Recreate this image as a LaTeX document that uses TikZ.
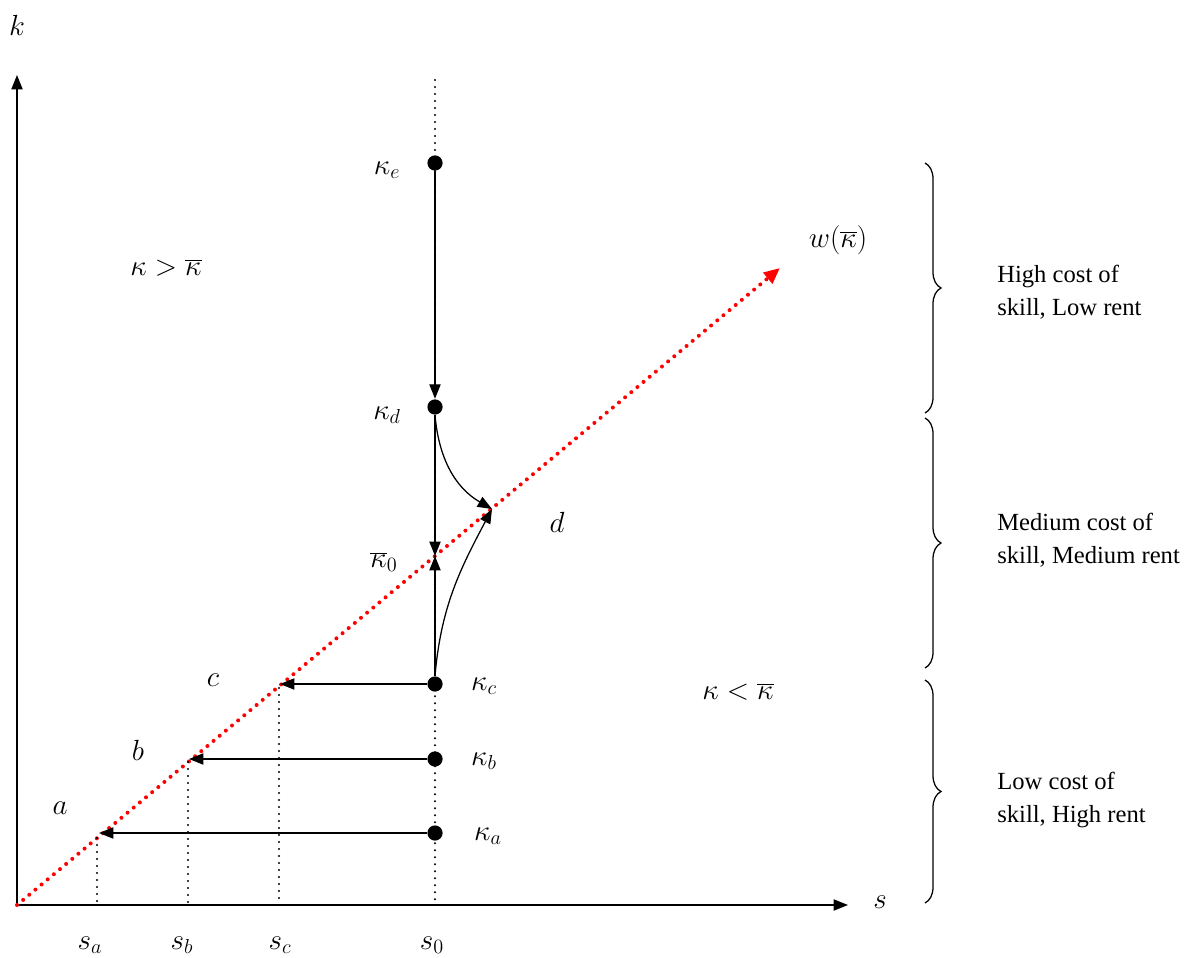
\documentclass[tikz,border=0pt]{standalone}
\usepackage{fontspec}
\setmainfont{Liberation Serif}
\usetikzlibrary{positioning,arrows.meta,decorations.pathreplacing}

\begin{document}
\begin{tikzpicture}[x=0.025cm,y=-0.025cm,line width=0.9pt]
\tikzstyle{dot}=[circle,fill=black,inner sep=0pt,minimum size=3.8mm]
\tikzstyle{lbl}=[font=\fontsize{22}{26}\selectfont]
\tikzstyle{note}=[font=\fontsize{17.5}{23.4}\selectfont,align=left,anchor=west]
\tikzstyle{tip}=[-{Triangle[length=3.6mm,width=2.8mm]}]
\tikzstyle{drop}=[line width=1.6pt,line cap=round,dash pattern=on 0pt off 1.75mm]
\tikzstyle{brc}=[decorate,decoration={brace,amplitude=4mm}]
\useasboundingbox (0,0) rectangle (1185,958);

% axes
\coordinate (O) at (17,905);
\coordinate (ytop) at (17,75);
\coordinate (xend) at (848,905);
\draw[tip] (O) -- (ytop);
\draw[tip] (O) -- (xend);
\node[lbl] (klbl) at (17,25) {$k$};
\node[lbl] (slbl) at (880,902) {$s$};

% w line
\coordinate (wend) at (780,268);
\draw[red,line width=1mm,line cap=round,dash pattern=on 0pt off 2mm,-{Triangle[length=4mm,width=3.4mm]}] (O) -- (wend);
\node[lbl] (wlbl) at (838,240) {$w(\overline{\kappa})$};

% points on the line
\coordinate (pa) at (99,833);
\coordinate (pb) at (189,759);
\coordinate (pc) at (280,684);
\coordinate (pd) at (492,509);
\coordinate (k0) at (435,556);

% s0 line and drops
\draw[drop] (435,80) -- (435,905);
\draw[drop] (97,838) -- (97,905);
\draw[drop] (188,762) -- (188,905);
\draw[drop] (279,688) -- (279,905);

% kappa points
\node[dot] (ke) at (435,163) {};
\node[dot] (kd) at (435,407) {};
\node[dot] (kc) at (435,684) {};
\node[dot] (kb) at (435,759) {};
\node[dot] (ka) at (435,833) {};

\node[lbl] (kelbl) at (387,170) {$\kappa_e$};
\node[lbl] (kdlbl) at (387,415) {$\kappa_d$};
\node[lbl] (k0lbl) at (384,562) {$\overline{\kappa}_0$};
\node[lbl] (kclbl) at (484,686) {$\kappa_c$};
\node[lbl] (kblbl) at (484,761) {$\kappa_b$};
\node[lbl] (kalbl) at (488,836) {$\kappa_a$};

% moves
\draw[tip] (ke) -- (kd);
\draw[tip] (kd) -- (k0);
\draw[tip] (kc) -- (k0);
\draw[tip] (kd.south) to[out=-85,in=150] (pd);
\draw[tip] (kc.north) to[out=85,in=-118] (pd);
\draw[tip] (kc) -- (pc);
\draw[tip] (kb) -- (pb);
\draw[tip] (ka) -- (pa);

\node[lbl] (albl) at (60,808) {$a$};
\node[lbl] (blbl) at (138,750) {$b$};
\node[lbl] (clbl) at (213,680) {$c$};
\node[lbl] (dlbl) at (557,522) {$d$};
\node[lbl] (salbl) at (90,945) {$s_a$};
\node[lbl] (sblbl) at (182,945) {$s_b$};
\node[lbl] (sclbl) at (280,945) {$s_c$};
\node[lbl] (s0lbl) at (432,945) {$s_0$};

\node[lbl] (gtlbl) at (166,268) {$\kappa>\overline{\kappa}$};
\node[lbl] (ltlbl) at (738,692) {$\kappa<\overline{\kappa}$};

% regions
\draw[brc] (925,163) -- (925,413);
\draw[brc] (925,418) -- (925,668);
\draw[brc] (925,680) -- (925,903);
\node[note] (high) at (992,292) {High cost of\\skill, Low rent};
\node[note] (med) at (992,540) {Medium cost of\\skill, Medium rent};
\node[note] (low) at (992,800) {Low cost of\\skill, High rent};
\end{tikzpicture}
\end{document}
